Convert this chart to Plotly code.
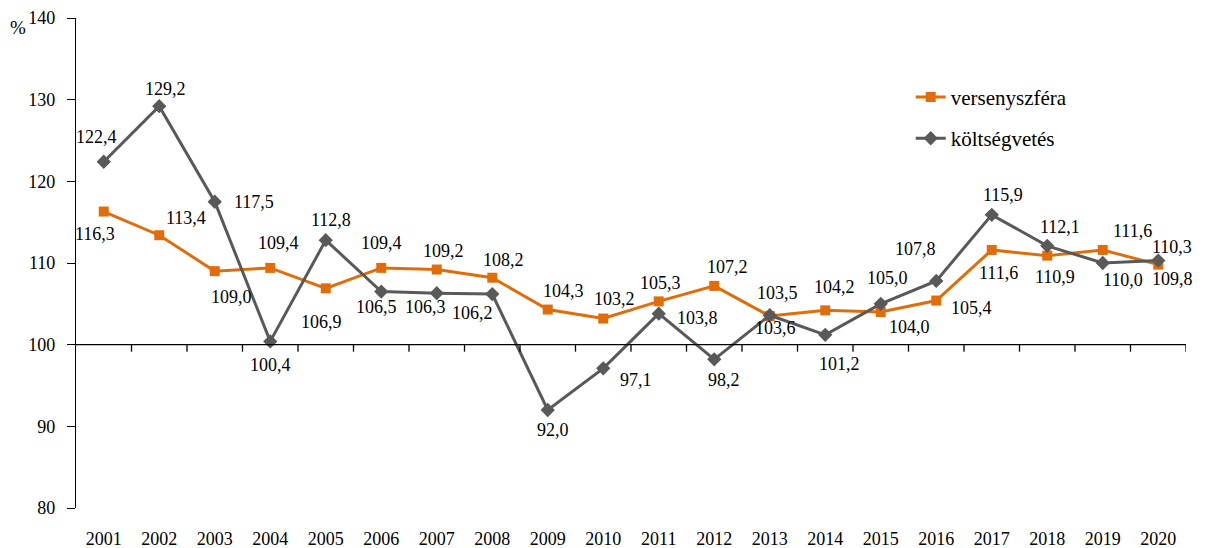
import plotly.graph_objects as go

years = [str(y) for y in range(2001, 2021)]
verseny = [116.3, 113.4, 109.0, 109.4, 106.9, 109.4, 109.2, 108.2, 104.3, 103.2,
           105.3, 107.2, 103.5, 104.2, 104.0, 105.4, 111.6, 110.9, 111.6, 109.8]
koltseg = [122.4, 129.2, 117.5, 100.4, 112.8, 106.5, 106.3, 106.2, 92.0, 97.1,
           103.8, 98.2, 103.6, 101.2, 105.0, 107.8, 115.9, 112.1, 110.0, 110.3]
y_ticks = [80, 90, 100, 110, 120, 130, 140]

# label offsets in pixels (dx right, dy down)
off_v = [(-9, 22), (27, -17), (17, 26), (8, -25), (-4, 34), (0, -25), (7, -19), (11, -18),
         (16, -19), (11, -20), (2, -18), (13, -19), (8, -23), (9, -23), (29, 15), (35, 7),
         (7, 23), (8, 21), (30, -19), (14, 14)]
off_k = [(-7, -25), (6, -17), (39, 0), (0, 24), (5, -20), (-5, 15), (-11, 14), (-20, 19),
         (5, 20), (33, 12), (39, 4), (10, 21), (6, 13), (14, 29), (7, -26), (-21, -32),
         (11, -20), (13, -19), (20, 17), (14, -14)]

ORANGE = "#E36C0A"
GREY = "#595959"
FONT = "Liberation Serif"

fig = go.Figure()
fig.add_trace(go.Scatter(x=years, y=verseny, name="versenyszféra", mode="lines+markers",
                         line=dict(color=ORANGE, width=3),
                         marker=dict(symbol="square", size=10, color=ORANGE),
                         legendgroup="a"))
fig.add_trace(go.Scatter(x=years, y=koltseg, name="költségvetés", mode="lines+markers",
                         line=dict(color=GREY, width=3),
                         marker=dict(symbol="diamond", size=11, color=GREY),
                         legendgroup="b"))

def fmt(v):
    return f"{v:.1f}".replace(".", ",")

anns = []
for vals, offs in ((verseny, off_v), (koltseg, off_k)):
    for i, (v, (dx, dy)) in enumerate(zip(vals, offs)):
        anns.append(dict(xref="x", yref="y", x=i, y=v, text=fmt(v), showarrow=False,
                         xshift=dx, yshift=-dy, xanchor="center", yanchor="middle",
                         font=dict(family=FONT, size=18, color="#000")))
anns.append(dict(xref="paper", yref="paper", x=-0.052, y=0.98, text="%", showarrow=False,
                 xanchor="center", yanchor="middle",
                 font=dict(family=FONT, size=19, color="#000")))

# baseline at 100 with tick marks at category boundaries
shapes = [dict(type="line", xref="paper", yref="y", x0=0, x1=1, y0=100, y1=100,
               line=dict(color="#000", width=1.3))]
for i in range(len(years)):
    shapes.append(dict(type="line", xref="x", yref="y", ysizemode="pixel", yanchor=100,
                       x0=i + 0.5, x1=i + 0.5, y0=0, y1=-7,
                       line=dict(color="#000", width=1.3)))

fig.update_layout(
    width=1206, height=548,
    margin=dict(l=76, r=20, t=18, b=40),
    paper_bgcolor="white", plot_bgcolor="white",
    font=dict(family=FONT, size=17, color="#000"),
    showlegend=True,
    legend=dict(x=0.752, y=0.88, xanchor="left", yanchor="top", bgcolor="rgba(0,0,0,0)",
                font=dict(family=FONT, size=21), traceorder="grouped", tracegroupgap=11),
    annotations=anns,
    shapes=shapes,
    xaxis=dict(type="category", categoryarray=years, range=[-0.5, 19.5], showline=False,
               showgrid=False, zeroline=False, ticks="outside", ticklen=14,
               tickcolor="rgba(0,0,0,0)", automargin=False,
               tickfont=dict(family=FONT, size=18)),
    yaxis=dict(range=[80, 140], tickvals=y_ticks, showline=True, linecolor="#000",
               linewidth=1.3, ticks="outside", ticklen=8, tickcolor="#000", tickwidth=1.3,
               showgrid=False, zeroline=False, ticklabelstandoff=8, automargin=False,
               tickfont=dict(family=FONT, size=18)),
)
fig.write_html("out.html", post_script="document.body.style.margin='0';",
               config={"displayModeBar": False})
